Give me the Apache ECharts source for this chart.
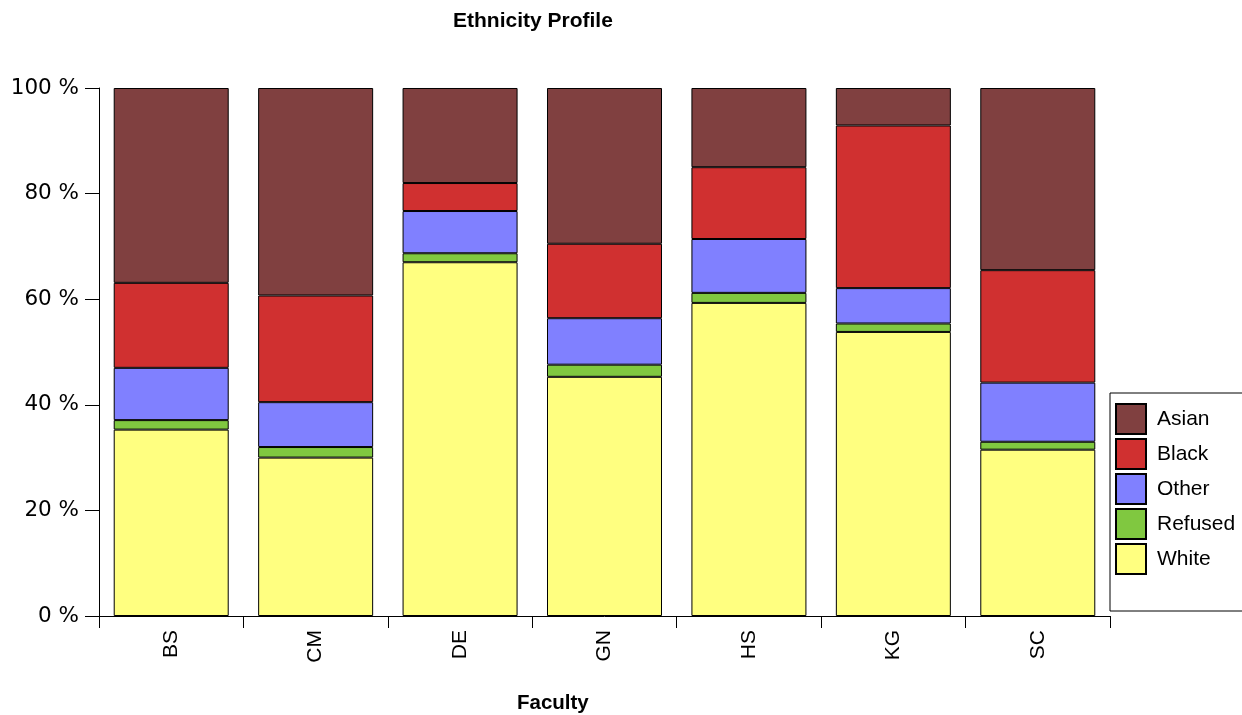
<!DOCTYPE html>
<html>
<head>
<meta charset="utf-8">
<script src="https://cdn.jsdelivr.net/npm/echarts@6/dist/echarts.min.js"></script>
<style>html,body{margin:0;padding:0;background:#fff}#c{width:1242px;height:715px}</style>
</head>
<body>
<div id="c"></div>
<script>
const categories = ['BS', 'CM', 'DE', 'GN', 'HS', 'KG', 'SC'];
const white   = [35.3, 30.0, 67.0, 45.3, 59.3, 53.8, 31.5];
const refused = [1.8, 2.0, 1.7, 2.3, 1.9, 1.6, 1.5];
const other   = [9.9, 8.5, 8.0, 8.8, 10.2, 6.7, 11.2];
const black   = [16.1, 20.2, 5.3, 14.1, 13.6, 30.8, 21.3];
const asian   = [36.9, 39.3, 18.0, 29.5, 15.0, 7.1, 34.5];
const yTicks  = [0, 20, 40, 60, 80, 100];

const seriesDefs = [
  ['White', white, '#ffff80'],
  ['Refused', refused, '#80c840'],
  ['Other', other, '#8080ff'],
  ['Black', black, '#d03030'],
  ['Asian', asian, '#804040']
];

const chart = echarts.init(document.getElementById('c'), null, {renderer: 'canvas'});
chart.setOption({
  animation: false,
  title: [
    {text: 'Ethnicity Profile', left: 448, top: 6,
     textStyle: {fontFamily: 'Liberation Sans, Arial', fontSize: 21, fontWeight: 'bold', color: '#000'}},
    {text: 'Faculty', left: 512, top: 688,
     textStyle: {fontFamily: 'Liberation Sans, Arial', fontSize: 20.5, fontWeight: 'bold', color: '#000'}}
  ],
  legend: {
    orient: 'vertical',
    left: 1110, top: 393,
    padding: [10, 60, 36, 5],
    itemWidth: 30, itemHeight: 30, itemGap: 3,
    borderColor: '#000', borderWidth: 1,
    data: ['Asian', 'Black', 'Other', 'Refused', 'White'],
    icon: 'rect',
    textStyle: {fontFamily: 'Liberation Sans, Arial', fontSize: 21, color: '#000', lineHeight: 28, padding: [0, 0, 0, 6]}
  },
  grid: {left: 99, right: 132, top: 88, bottom: 99, containLabel: false},
  xAxis: {
    type: 'category',
    data: categories,
    axisLine: {lineStyle: {color: '#000', width: 1}},
    axisTick: {show: true, length: 12, alignWithLabel: false, lineStyle: {color: '#000'}},
    axisLabel: {rotate: 90, margin: 14, fontFamily: 'Liberation Sans, Arial', fontSize: 21, color: '#000'}
  },
  yAxis: {
    type: 'value',
    min: yTicks[0], max: yTicks[yTicks.length - 1], interval: 20,
    splitLine: {show: false},
    axisLine: {show: true, lineStyle: {color: '#000', width: 1}},
    axisTick: {show: true, length: 14, lineStyle: {color: '#000'}},
    axisLabel: {formatter: '{value} %', margin: 20, fontFamily: 'DejaVu Sans, Verdana', fontSize: 21.5, color: '#000'}
  },
  series: seriesDefs.map(([name, data, color]) => ({
    name, type: 'bar', stack: 'total', data,
    barWidth: 115,
    itemStyle: {color, borderColor: '#000', borderWidth: 1}
  }))
});
</script>
</body>
</html>
